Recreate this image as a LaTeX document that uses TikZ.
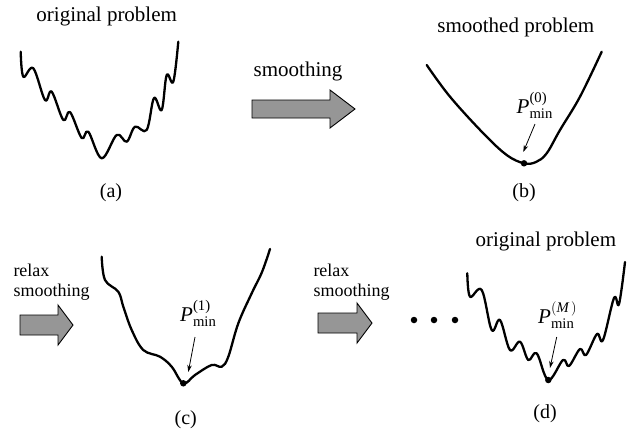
\documentclass[tikz,border=0pt]{standalone}
\usepackage{amsmath}
\usepackage{fontspec}
\setmainfont{Liberation Serif}
\usetikzlibrary{arrows.meta}
\tikzset{
  curve/.style={line width=2.3pt, line join=round, line cap=round},
  title/.style={font=\fontsize{21}{25}\selectfont, anchor=base, inner sep=0pt},
  caption/.style={font=\fontsize{20}{24}\selectfont, anchor=base, inner sep=0pt},
  relaxtxt/.style={font=\fontsize{18}{21}\selectfont, anchor=base west, inner sep=0pt},
  blockarr/.style={draw=black, line width=0.9pt, fill={rgb,255:red,150;green,150;blue,150}, line join=miter},
  mindot/.style={circle, fill=black, inner sep=0pt, minimum size=6.5pt},
  plabel/.style={font=\fontsize{21}{25}\selectfont, anchor=base west, inner sep=0pt},
  pointer/.style={line width=0.8pt, -{Stealth[length=7pt,width=4.5pt]}},
  elldot/.style={circle, fill=black, inner sep=0pt, minimum size=6.5pt}
}
\begin{document}
\begin{tikzpicture}[x=1pt,y=-1pt]
\useasboundingbox[fill=white] (0,0) rectangle (629,432);

% ---------- panel (a)
\node[title] (ta) at (106.7,21.7) {original problem};
\draw[curve] plot[smooth, tension=0.6] coordinates {
  (20.7,51.7) (23.3,76.7) (33.3,68.3) (45,100) (51.7,91.7) (63.3,120)
  (70,112) (81.7,138) (88.3,131.7) (101.7,158.3) (116.7,135) (126.7,141.7)
  (135,126.7) (146.7,130) (154,98) (161.7,110) (166.7,75) (173.3,81.7) (178.3,41.7)};
\node[caption] (ca) at (111,197) {(a)};

% ---------- smoothing arrow
\node[title] (ts) at (298,76) {smoothing};
\draw[blockarr] (252,100) -- (330,100) -- (330,90) -- (355,109) -- (330,128) -- (330,118) -- (252,118) -- cycle;

% ---------- panel (b)
\node[title] (tb) at (515.8,32.3) {smoothed problem};
\draw[curve] plot[smooth, tension=0.6] coordinates {
  (426.7,65) (450,96.7) (483.3,133.3) (506.7,155) (524,163.3) (536,162)
  (546.7,153.3) (560,130) (580,96.7) (601.7,51.7)};
\node[mindot] (db) at (524,163.3) {};
\node[plabel] (pb) at (516.5,113) {\textit{P}$^{\text{(0)}}_{\text{min}}$};
\coordinate (pbs) at (535,124);
\coordinate (pbe) at (523.3,152);
\draw[pointer] (pbs) -- (pbe);
\node[caption] (cb) at (524,197) {(b)};

% ---------- relax smoothing (c)
\node[relaxtxt] (rc1) at (13.3,276) {relax};
\node[relaxtxt] (rc2) at (13.3,296.7) {smoothing};
\draw[blockarr] (20,315) -- (58,315) -- (58,305) -- (73,325) -- (58,345) -- (58,335) -- (20,335) -- cycle;

% ---------- panel (c)
\draw[curve] plot[smooth, tension=0.6] coordinates {
  (101.7,256.7) (105,280) (118.3,291.7) (123.3,306.7) (131.7,330) (143.3,350)
  (160,356.7) (171.7,366.7) (183.3,383.3) (195,375) (211.7,365) (221.7,366.7)
  (228.3,356.7) (238.3,323.3) (251.7,293.3) (262,272) (270,249)};
\node[mindot] (dc) at (183.3,383.3) {};
\node[plabel] (pc) at (180,321) {\textit{P}$^{\text{(1)}}_{\text{min}}$};
\coordinate (pcs) at (195,337);
\coordinate (pce) at (188.3,372);
\draw[pointer] (pcs) -- (pce);
\node[caption] (cc) at (185.8,424) {(c)};

% ---------- relax smoothing (d)
\node[relaxtxt] (rd1) at (313.3,276) {relax};
\node[relaxtxt] (rd2) at (313.3,296.7) {smoothing};
\draw[blockarr] (318,313) -- (357,313) -- (357,303) -- (372,323) -- (357,343) -- (357,333) -- (318,333) -- cycle;

% ---------- ellipsis
\node[elldot] (e1) at (414,320) {};
\node[elldot] (e2) at (434,320) {};
\node[elldot] (e3) at (455,320) {};

% ---------- panel (d)
\node[title] (td) at (545.8,246.7) {original problem};
\draw[curve] plot[smooth, tension=0.6] coordinates {
  (467.3,273.3) (470,296.7) (481.7,290) (491.7,330) (500,320) (510,350)
  (520,341.7) (528.3,360) (536.7,353.3) (548.3,380) (563,360) (569,366)
  (580,349) (586,355) (597,334) (603,340) (614,298)
  (619,304) (625,262)};
\node[mindot] (dd) at (548.3,380) {};
\node[plabel] (pd) at (538,323) {\textit{P}$^{(\textit{M}\,)}_{\text{min}}$};
\coordinate (pds) at (556.7,337);
\coordinate (pde) at (550,368);
\draw[pointer] (pds) -- (pde);
\node[caption] (cd) at (545,418) {(d)};
\end{tikzpicture}
\end{document}
